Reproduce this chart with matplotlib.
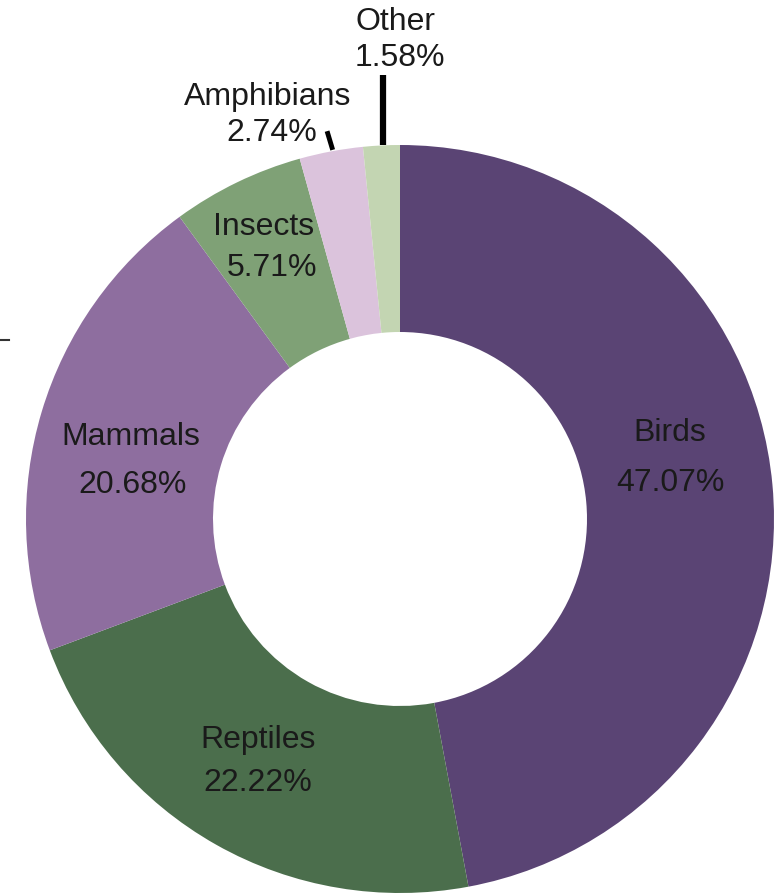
import matplotlib.pyplot as plt
from matplotlib.lines import Line2D

plt.rcParams['font.family'] = ['Liberation Sans', 'DejaVu Sans']

categories = ['Birds', 'Reptiles', 'Mammals', 'Insects', 'Amphibians', 'Other']
shares = [47.07, 22.22, 20.68, 5.71, 2.74, 1.58]
colors = ['#5a4474', '#4b6e4c', '#8e6e9f', '#7fa176', '#dbc3dc', '#c3d5b2']

# label positions (name line, percent line) in axes data units
name_pos = [(0.722, 0.233), (-0.380, -0.588), (-0.719, 0.222),
            (-0.364, 0.783), (-0.353, 1.131), (-0.011, 1.332)]
pct_pos = [(0.722, 0.099), (-0.380, -0.703), (-0.716, 0.094),
           (-0.342, 0.674), (-0.342, 1.035), (0.0, 1.236)]

fig = plt.figure(figsize=(7.74, 8.95), dpi=100)
ax = fig.add_axes([0, 0, 1, 1])

ax.pie(shares, colors=colors, startangle=90, counterclock=False, radius=1.0,
       wedgeprops=dict(width=0.5, edgecolor='none', antialiased=True))

for name, val, npos, ppos in zip(categories, shares, name_pos, pct_pos):
    ax.text(npos[0], npos[1], name, ha='center', va='center', fontsize=23, color='#1a1a1a')
    ax.text(ppos[0], ppos[1], f'{val:.2f}%', ha='center', va='center', fontsize=23, color='#1a1a1a')

# leader lines for the small slices
ax.plot([-0.045, -0.045], [1.187, 1.0], color='black', lw=4.5, solid_capstyle='butt')
ax.plot([-0.195, -0.180], [1.037, 0.987], color='black', lw=3.5, solid_capstyle='butt')

# stray tick on the left edge
fig.add_artist(Line2D([0.0, 0.011], [1 - 341 / 895, 1 - 341 / 895], color='#333333', lw=1.5))

ax.set_xlim(-400 / 374, 374 / 374)
ax.set_ylim(-375 / 374, 520 / 374)
ax.set_aspect('equal')
ax.axis('off')

fig.savefig('out.png', dpi=100)
